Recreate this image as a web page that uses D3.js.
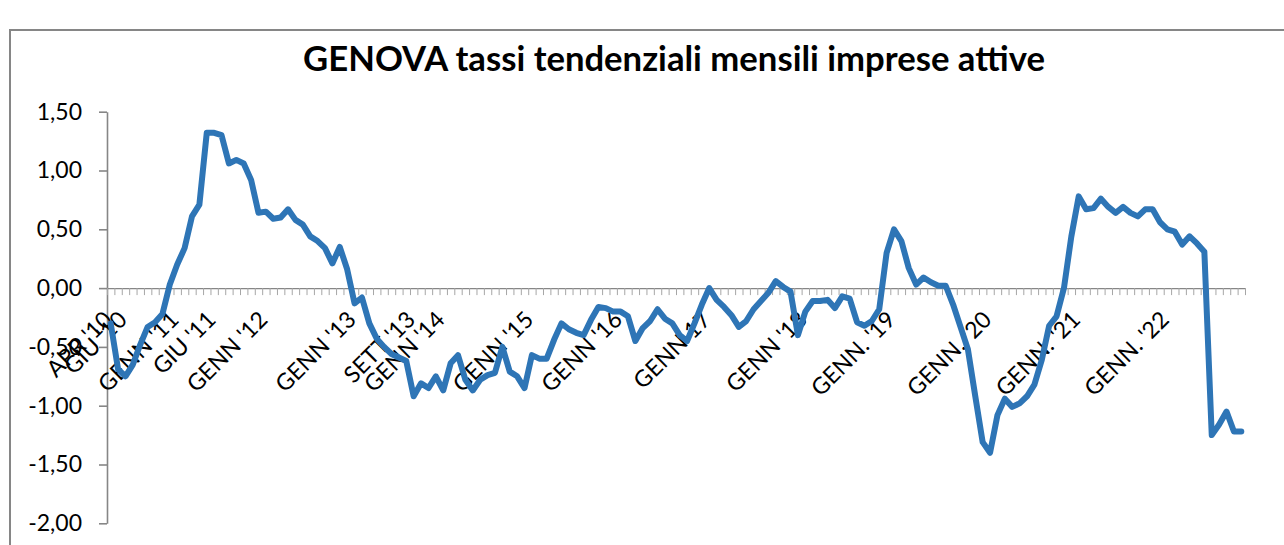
<!DOCTYPE html>
<html>
<head>
<meta charset="utf-8">
<script src="https://cdn.jsdelivr.net/npm/d3@7"></script>
<style>
  html, body { margin: 0; padding: 0; background: #fff; }
  svg { display: block; }
  text { font-family: Lato, "Open Sans", sans-serif; fill: #000; }
</style>
</head>
<body>
<svg id="chart" width="1284" height="545"></svg>
<script>
// ---- data (monthly, APR 2010 -> JAN 2023) ----
const values = [
  -0.30, -0.69, -0.75, -0.65, -0.48, -0.33, -0.29, -0.22, 0.03, 0.20,
   0.34,  0.61,  0.71,  1.32,  1.32,  1.30,  1.06,  1.09, 1.06, 0.92,
   0.64,  0.65,  0.59,  0.60,  0.67,  0.58,  0.54,  0.44, 0.40, 0.34,
   0.21,  0.35,  0.16, -0.13, -0.08, -0.30, -0.43, -0.50, -0.56, -0.59,
  -0.62, -0.92, -0.81, -0.85, -0.75, -0.87, -0.64, -0.57, -0.78, -0.87,
  -0.78, -0.74, -0.72, -0.50, -0.71, -0.75, -0.85, -0.57, -0.60, -0.60,
  -0.44, -0.30, -0.35, -0.38, -0.40, -0.27, -0.16, -0.17, -0.20, -0.20,
  -0.24, -0.45, -0.34, -0.28, -0.18, -0.26, -0.30, -0.40, -0.45, -0.30,
  -0.14,  0.00, -0.10, -0.16, -0.23, -0.33, -0.28, -0.18, -0.11, -0.04,
   0.06,  0.01, -0.03, -0.40, -0.20, -0.11, -0.11, -0.10, -0.17, -0.07,
  -0.09, -0.29, -0.32, -0.28, -0.18,  0.30,  0.50,  0.40,  0.17,  0.03,
   0.09,  0.05,  0.02,  0.02, -0.14, -0.33, -0.52, -0.92, -1.31, -1.40,
  -1.08, -0.94, -1.01, -0.98, -0.92, -0.82, -0.61, -0.32, -0.24,  0.00,
   0.44,  0.78,  0.67,  0.68,  0.76,  0.69,  0.64,  0.69,  0.64,  0.61,
   0.67,  0.67,  0.56,  0.50,  0.48,  0.37,  0.44,  0.38,  0.31, -1.25,
  -1.16, -1.05, -1.22, -1.22
];
const categories = d3.range(values.length);           // one category per month
const labelText  = ["APR '10", "GIU '10", "GENN '11", "GIU '11", "GENN '12", "GENN '13", "SETT '13", "GENN '14",
                    "GENN '15", "GENN '16", "GENN 17", "GENN '18", "GENN. '19", "GENN. '20", "GENN. '21", "GENN. '22"];
const labelIndex = [0, 2, 9, 14, 21, 33, 41, 45, 57, 69, 81, 94, 106, 119, 131, 143];
const yTicks = [-2, -1.5, -1, -0.5, 0, 0.5, 1, 1.5];
const title = "GENOVA tassi tendenziali mensili imprese attive";

// ---- layout ----
const svg = d3.select("#chart");
const plotL = 107, plotR = 1245, plotT = 111.7, plotB = 523.3;
const axisColor = "#868686";

// outer chart-area border (cropped on right / bottom)
svg.append("rect")
  .attr("x", 10).attr("y", 30).attr("width", 1400).attr("height", 700)
  .attr("fill", "none").attr("stroke", axisColor).attr("stroke-width", 2);

const x = d3.scalePoint().domain(categories).range([plotL, plotR]).padding(0.5);
const xEdges = d3.scaleLinear().domain([0, categories.length]).range([plotL, plotR]);
const y = d3.scaleLinear().domain([-2, 1.5]).range([plotB, plotT]);

const loc = d3.formatLocale({decimal: ",", thousands: ".", grouping: [3], currency: ["", "€"], minus: "-"});
const fmt = loc.format(".2f");

// y axis
const gy = svg.append("g").attr("transform", `translate(${plotL},0)`)
  .call(d3.axisLeft(y).tickValues(yTicks).tickFormat(fmt).tickSize(8).tickPadding(17).tickSizeOuter(0));
gy.select(".domain").attr("stroke", axisColor).attr("stroke-width", 1.6);
gy.selectAll(".tick line").attr("stroke", axisColor).attr("stroke-width", 1.6);
gy.selectAll(".tick text").style("font-family", "Lato, sans-serif").style("font-size", "23px").attr("fill", "#000");

// x axis at zero with a tick at every category boundary
const gx = svg.append("g").attr("transform", `translate(0,${y(0)})`)
  .call(d3.axisBottom(xEdges).tickValues(d3.range(categories.length + 1)).tickFormat("").tickSize(7).tickSizeOuter(0));
gx.select(".domain").attr("stroke", axisColor).attr("stroke-width", 1.2);
gx.selectAll(".tick line").attr("stroke", "#a6a6a6").attr("stroke-width", 1);

// rotated category labels
svg.append("g").selectAll("text")
  .data(labelIndex)
  .join("text")
  .attr("transform", d => `translate(${x(d) + 3},${y(0) + 33}) rotate(-45)`)
  .attr("text-anchor", "end")
  .style("font-size", "23px")
  .text((d, i) => labelText[i]);

// series line
svg.append("path")
  .datum(values)
  .attr("fill", "none")
  .attr("stroke", "#2E75B6")
  .attr("stroke-width", 6)
  .attr("stroke-linejoin", "round")
  .attr("stroke-linecap", "round")
  .attr("d", d3.line().x((d, i) => x(categories[i])).y(d => y(d)));

// title, fitted to the reference width
const t = svg.append("text")
  .attr("x", 674).attr("y", 71)
  .attr("text-anchor", "middle")
  .style("font-weight", "bold")
  .style("font-size", "30px")
  .text(title);
const w = t.node().getComputedTextLength();
t.style("font-size", (30 * 742 / w) + "px");
</script>
</body>
</html>
